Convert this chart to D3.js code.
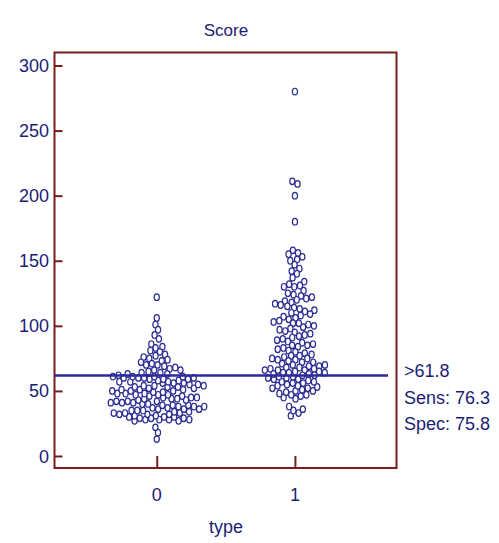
<!DOCTYPE html>
<html>
<head>
<meta charset="utf-8">
<script src="https://cdn.jsdelivr.net/npm/d3@7"></script>
<style>
  body { margin: 0; background: #fff; }
  text { font-family: "Liberation Sans", Arial, sans-serif; fill: #1c1c78; }
</style>
</head>
<body>
<svg id="chart" width="499" height="543"></svg>
<script>
var width = 499,
	height = 543;

// categories and values
var types = [0, 1];
var type0 = [122, 106, 101, 97, 93, 90, 86, 84, 83, 81, 80, 78, 77, 76, 75, 74, 73, 72, 71, 70,
	70, 69, 68, 67, 66, 66, 65, 64, 64, 63, 63, 62,
	13, 18, 22,
	27, 27, 28, 28, 28, 28, 29, 29, 29, 30, 30, 30, 31, 31, 32, 32, 32, 33, 33, 33,
	34, 34, 35, 35, 35, 36, 36, 36, 37, 37, 38, 38, 38, 39, 39, 39, 40, 40,
	41, 41, 41, 42, 42, 42, 43, 43, 44, 44, 44, 45, 45, 45, 46, 46, 47, 47, 47,
	48, 48, 48, 49, 49, 50, 50, 50, 51, 51, 51, 52, 52, 53, 53, 53, 54, 54, 54,
	55, 55, 56, 56, 56, 57, 57, 57, 58, 58, 59, 59, 59, 60, 60, 60, 60, 61, 61, 61, 61];
var type1 = [31, 33, 35, 36, 38,
	44, 45, 46, 47, 47, 48, 49, 50, 50, 51, 52, 52, 53, 54, 54, 55, 56, 56, 57, 57,
	58, 59, 59, 60, 60, 61, 61,
	280, 211, 209, 200, 180,
	158, 156, 155, 153, 151, 150,
	147, 144, 142, 140,
	137, 134, 132, 131, 130, 130,
	127, 125, 124, 123, 122, 121, 120,
	119, 118, 117, 116, 115, 114, 113, 112, 111, 110,
	109, 108, 107, 106, 105, 104, 103, 102, 101, 100,
	99, 98, 97, 96, 95, 94, 93, 92, 91, 90,
	89, 88, 87, 86, 85, 84, 83, 82, 81, 80,
	79, 78, 77, 76, 75, 75, 74, 73, 72, 71, 70, 70,
	69, 69, 68, 68, 67, 67, 66, 66, 65, 65, 64, 64, 63, 63, 62, 62,
	72, 74, 77, 66, 64, 85, 102];
var yTicks = [0, 50, 100, 150, 200, 250, 300];
var cutoff = 61.8;
var stats = [">61.8", "Sens: 76.3", "Spec: 75.8"];

var axisColor = "#7b1c1c",
	dotColor = "#2b2b92";

var svg = d3.select("svg#chart");

var x = d3.scaleLinear().domain([-0.74, 1.735]).range([54.5, 396.5]);
var y = d3.scaleLinear().domain([0, 300]).range([456, 65.5]);

// frame
svg.append("rect")
	.attr("x", x.range()[0])
	.attr("y", 52.5)
	.attr("width", x.range()[1] - x.range()[0])
	.attr("height", 468 - 52.5)
	.attr("fill", "none")
	.attr("stroke", axisColor)
	.attr("stroke-width", 2);

// y axis: ticks point inward
var yAxis = svg.append("g")
	.attr("transform", "translate(" + x.range()[0] + ",0)")
	.call(d3.axisRight(y).tickValues(yTicks).tickSize(8).tickFormat(""));
yAxis.select(".domain").remove();
yAxis.selectAll("line").attr("stroke", axisColor).attr("stroke-width", 2);

svg.append("g").selectAll("text")
	.data(yTicks)
	.enter().append("text")
	.attr("x", 49)
	.attr("y", function(d) { return y(d) + 6.5; })
	.attr("text-anchor", "end")
	.style("font-size", "18px")
	.text(function(d) { return d; });

// x axis: ticks point up from the bottom
var xAxis = svg.append("g")
	.attr("transform", "translate(0,468)")
	.call(d3.axisTop(x).tickValues(types).tickSize(12).tickFormat(""));
xAxis.select(".domain").remove();
xAxis.selectAll("line").attr("stroke", axisColor).attr("stroke-width", 2);

svg.append("g").selectAll("text")
	.data(types)
	.enter().append("text")
	.attr("x", function(d) { return x(d); })
	.attr("y", 501)
	.attr("text-anchor", "middle")
	.style("font-size", "18px")
	.text(function(d) { return d; });

svg.append("text")
	.attr("x", 226)
	.attr("y", 36)
	.attr("text-anchor", "middle")
	.style("font-size", "17px")
	.text("Score");

svg.append("text")
	.attr("x", 226)
	.attr("y", 533)
	.attr("text-anchor", "middle")
	.style("font-size", "18px")
	.text("type");

// beeswarm placement: y fixed by value, x pushed apart by collision
var nodes = [];
type0.forEach(function(v) { nodes.push({ type: 0, value: v }); });
type1.forEach(function(v) { nodes.push({ type: 1, value: v }); });
nodes.forEach(function(d) {
	d.fy = y(d.value);
	d.x = x(d.type);
});

var simulation = d3.forceSimulation(nodes)
	.force("x", d3.forceX(function(d) { return x(d.type); }).strength(0.12))
	.force("collide", d3.forceCollide(2.9).iterations(3))
	.stop();
for (var i = 0; i < 300; i++) simulation.tick();

svg.append("g")
	.attr("class", "nodes")
	.selectAll("ellipse")
	.data(nodes)
	.enter().append("ellipse")
	.attr("cx", function(d) { return d.x; })
	.attr("cy", function(d) { return d.fy; })
	.attr("rx", 2.6)
	.attr("ry", 3.3)
	.attr("fill", "#fff")
	.attr("stroke", dotColor)
	.attr("stroke-width", 1.2);

// cut-off line
svg.append("line")
	.attr("x1", x.range()[0])
	.attr("x2", 388)
	.attr("y1", y(cutoff))
	.attr("y2", y(cutoff))
	.attr("stroke", "#2a2a9c")
	.attr("stroke-width", 2.5);

svg.append("g").selectAll("text")
	.data(stats)
	.enter().append("text")
	.attr("x", 404)
	.attr("y", function(d, i) { return 377 + i * 26.5; })
	.style("font-size", "18px")
	.text(function(d) { return d; });
</script>
</body>
</html>
